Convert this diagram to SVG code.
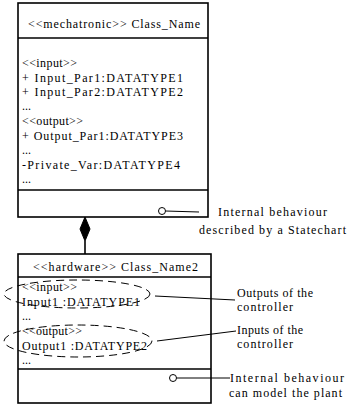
<svg xmlns="http://www.w3.org/2000/svg" width="349" height="408" viewBox="0 0 349 408">
  <style>
    .box { fill: #ffffff; stroke: #000000; stroke-width: 1.6; }
    .sep { stroke: #000000; stroke-width: 1.4; fill: none; }
    .t { font-family: "Liberation Serif", "Times New Roman", serif; font-size: 12px; fill: #000000; }
    .lead { stroke: #000000; stroke-width: 1; fill: none; }
    .port { fill: #ffffff; stroke: #000000; stroke-width: 1; }
    .grp { fill: none; stroke: #000000; stroke-width: 1; stroke-dasharray: 8 5; }
  </style>
  <rect width="349" height="408" fill="#ffffff"/>

  <!-- mechatronic class -->
  <g id="class-mechatronic">
    <rect class="box" x="18" y="3" width="190" height="214"/>
    <line class="sep" x1="18" y1="38" x2="208" y2="38"/>
    <line class="sep" x1="18" y1="190" x2="208" y2="190"/>
    <text class="t" x="28" y="28" textLength="172" lengthAdjust="spacing">&lt;&lt;mechatronic&gt;&gt; Class_Name</text>
    <text class="t" x="22" y="67" textLength="55" lengthAdjust="spacing">&lt;&lt;input&gt;&gt;</text>
    <text class="t" x="22" y="82" textLength="161" lengthAdjust="spacing">+ Input_Par1:DATATYPE1</text>
    <text class="t" x="22" y="96" textLength="161" lengthAdjust="spacing">+ Input_Par2:DATATYPE2</text>
    <text class="t" x="22" y="110">...</text>
    <text class="t" x="22" y="125" textLength="61" lengthAdjust="spacing">&lt;&lt;output&gt;&gt;</text>
    <text class="t" x="22" y="140" textLength="161" lengthAdjust="spacing">+ Output_Par1:DATATYPE3</text>
    <text class="t" x="22" y="154">...</text>
    <text class="t" x="22" y="169" textLength="158" lengthAdjust="spacing">-Private_Var:DATATYPE4</text>
    <text class="t" x="22" y="183">...</text>
  </g>

  <!-- hardware class -->
  <g id="class-hardware">
    <rect class="box" x="18" y="254" width="193" height="149"/>
    <line class="sep" x1="18" y1="277" x2="211" y2="277"/>
    <line class="sep" x1="18" y1="369" x2="211" y2="369"/>
    <text class="t" x="33" y="271" textLength="165" lengthAdjust="spacing">&lt;&lt;hardware&gt;&gt; Class_Name2</text>
    <text class="t" x="22" y="291" textLength="55" lengthAdjust="spacing">&lt;&lt;input&gt;&gt;</text>
    <text class="t" x="22" y="306" textLength="118" lengthAdjust="spacing">Input1 :DATATYPE1</text>
    <text class="t" x="22" y="320">...</text>
    <text class="t" x="22" y="335" textLength="60" lengthAdjust="spacing">&lt;&lt;output&gt;&gt;</text>
    <text class="t" x="22" y="350" textLength="125" lengthAdjust="spacing">Output1 :DATATYPE2</text>
    <text class="t" x="22" y="364">...</text>
    <!-- dashed groupings of the port attributes -->
    <ellipse class="grp" cx="77" cy="294" rx="73" ry="14"/>
    <ellipse class="grp" cx="78" cy="341" rx="74" ry="16"/>
  </g>

  <!-- annotation texts -->
  <g id="note-statechart">
    <text class="t" x="218" y="216" textLength="109" lengthAdjust="spacing">Internal behaviour</text>
    <text class="t" x="199" y="234" textLength="147" lengthAdjust="spacing">described by a Statechart</text>
  </g>
  <g id="note-outputs">
    <text class="t" x="237" y="297" textLength="76" lengthAdjust="spacing">Outputs of the</text>
    <text class="t" x="237" y="311" textLength="56" lengthAdjust="spacing">controller</text>
  </g>
  <g id="note-inputs">
    <text class="t" x="237" y="334" textLength="66" lengthAdjust="spacing">Inputs of the</text>
    <text class="t" x="237" y="348" textLength="56" lengthAdjust="spacing">controller</text>
  </g>
  <g id="note-plant">
    <text class="t" x="230" y="382" textLength="114" lengthAdjust="spacing">Internal behaviour</text>
    <text class="t" x="229" y="397" textLength="113" lengthAdjust="spacing">can model the plant</text>
  </g>

  <!-- connectors -->
  <g id="connectors">
    <!-- composition: filled diamond at the whole -->
    <polygon points="85,217 90,229 85,241 80,229" fill="#000000" stroke="#000000" stroke-width="1"/>
    <line x1="85" y1="241" x2="85" y2="254" stroke="#000000" stroke-width="1.6"/>
    <!-- behaviour leaders -->
    <line class="lead" x1="165.5" y1="211" x2="199" y2="212"/>
    <circle class="port" cx="162" cy="211" r="3.5"/>
    <line class="lead" x1="176.5" y1="378" x2="230" y2="378"/>
    <circle class="port" cx="173" cy="378" r="3.5"/>
    <!-- port group leaders -->
    <line class="lead" x1="155" y1="296" x2="235" y2="300"/>
    <line class="lead" x1="157" y1="341" x2="236" y2="331"/>
  </g>
</svg>
